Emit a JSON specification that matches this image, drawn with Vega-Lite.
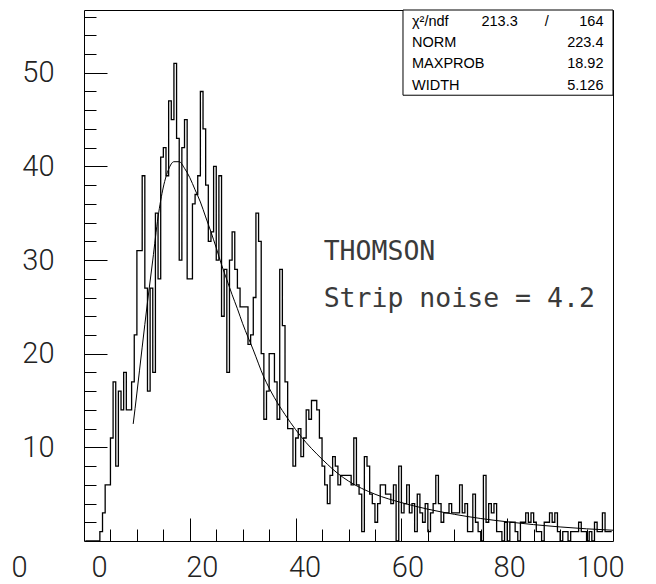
{
  "$schema": "https://vega.github.io/schema/vega-lite/v6.json",
  "width": 529,
  "height": 531,
  "autosize": {"type": "none"},
  "padding": {"left": 84, "top": 10, "right": 43, "bottom": 43},
  "background": "white",
  "config": {
    "view": {"stroke": "black", "strokeWidth": 1},
    "axis": {"domain": false, "grid": false, "tickColor": "black", "tickWidth": 1, "labelColor": "#222", "labelFont": "Roboto", "labelFontWeight": 300, "labelFontSize": 29}
  },
  "datasets": {
    "hist": [
      {"x":0.25,"n":0},{"x":0.75,"n":0},{"x":1.25,"n":0},{"x":1.75,"n":0},{"x":2.25,"n":0},{"x":2.75,"n":0},
      {"x":3.25,"n":1},{"x":3.75,"n":3},{"x":4.25,"n":6},{"x":4.75,"n":6},{"x":5.25,"n":11},{"x":5.75,"n":17},
      {"x":6.25,"n":8},{"x":6.75,"n":16},{"x":7.25,"n":14},{"x":7.75,"n":18},{"x":8.25,"n":14},{"x":8.75,"n":14},
      {"x":9.25,"n":17},{"x":9.75,"n":22},{"x":10.25,"n":31},{"x":10.75,"n":31},{"x":11.25,"n":39},{"x":11.75,"n":27},
      {"x":12.25,"n":16},{"x":12.75,"n":27},{"x":13.25,"n":18},{"x":13.75,"n":35},{"x":14.25,"n":28},{"x":14.75,"n":41},
      {"x":15.25,"n":42},{"x":15.75,"n":39},{"x":16.25,"n":47},{"x":16.75,"n":45},{"x":17.25,"n":51},{"x":17.75,"n":43},
      {"x":18.25,"n":30},{"x":18.75,"n":42},{"x":19.25,"n":45},{"x":19.75,"n":28},{"x":20.25,"n":28},{"x":20.75,"n":36},
      {"x":21.25,"n":37},{"x":21.75,"n":39},{"x":22.25,"n":48},{"x":22.75,"n":44},{"x":23.25,"n":38},{"x":23.75,"n":32},
      {"x":24.25,"n":33},{"x":24.75,"n":40},{"x":25.25,"n":30},{"x":25.75,"n":39},{"x":26.25,"n":24},{"x":26.75,"n":29},
      {"x":27.25,"n":18},{"x":27.75,"n":30},{"x":28.25,"n":33},{"x":28.75,"n":29},{"x":29.25,"n":27},{"x":29.75,"n":25},
      {"x":30.25,"n":25},{"x":30.75,"n":25},{"x":31.25,"n":21},{"x":31.75,"n":22},{"x":32.25,"n":26},{"x":32.75,"n":35},
      {"x":33.25,"n":32},{"x":33.75,"n":20},{"x":34.25,"n":13},{"x":34.75,"n":16},{"x":35.25,"n":20},{"x":35.75,"n":20},
      {"x":36.25,"n":17},{"x":36.75,"n":13},{"x":37.25,"n":29},{"x":37.75,"n":23},{"x":38.25,"n":17},{"x":38.75,"n":12},
      {"x":39.25,"n":12},{"x":39.75,"n":8},{"x":40.25,"n":11},{"x":40.75,"n":12},{"x":41.25,"n":9},{"x":41.75,"n":11},
      {"x":42.25,"n":14},{"x":42.75,"n":13},{"x":43.25,"n":15},{"x":43.75,"n":15},{"x":44.25,"n":14},{"x":44.75,"n":11},
      {"x":45.25,"n":8},{"x":45.75,"n":6},{"x":46.25,"n":4},{"x":46.75,"n":7},{"x":47.25,"n":9},{"x":47.75,"n":8},
      {"x":48.25,"n":6},{"x":48.75,"n":7},{"x":49.25,"n":7},{"x":49.75,"n":7},{"x":50.25,"n":7},{"x":50.75,"n":6},
      {"x":51.25,"n":11},{"x":51.75,"n":6},{"x":52.25,"n":5},{"x":52.75,"n":1},{"x":53.25,"n":9},{"x":53.75,"n":8},
      {"x":54.25,"n":5},{"x":54.75,"n":4},{"x":55.25,"n":2},{"x":55.75,"n":4},{"x":56.25,"n":6},{"x":56.75,"n":6},
      {"x":57.25,"n":5},{"x":57.75,"n":5},{"x":58.25,"n":4},{"x":58.75,"n":6},{"x":59.25,"n":0},{"x":59.75,"n":8},
      {"x":60.25,"n":3},{"x":60.75,"n":4},{"x":61.25,"n":6},{"x":61.75,"n":3},{"x":62.25,"n":4},{"x":62.75,"n":1},
      {"x":63.25,"n":5},{"x":63.75,"n":3},{"x":64.25,"n":2},{"x":64.75,"n":4},{"x":65.25,"n":1},{"x":65.75,"n":3},
      {"x":66.25,"n":4},{"x":66.75,"n":7},{"x":67.25,"n":4},{"x":67.75,"n":2},{"x":68.25,"n":3},{"x":68.75,"n":3},
      {"x":69.25,"n":4},{"x":69.75,"n":3},{"x":70.25,"n":3},{"x":70.75,"n":3},{"x":71.25,"n":6},{"x":71.75,"n":3},
      {"x":72.25,"n":4},{"x":72.75,"n":1},{"x":73.25,"n":1},{"x":73.75,"n":5},{"x":74.25,"n":2},{"x":74.75,"n":1},
      {"x":75.25,"n":0},{"x":75.75,"n":7},{"x":76.25,"n":2},{"x":76.75,"n":4},{"x":77.25,"n":3},{"x":77.75,"n":4},
      {"x":78.25,"n":1},{"x":78.75,"n":1},{"x":79.25,"n":0},{"x":79.75,"n":2},{"x":80.25,"n":0},{"x":80.75,"n":2},
      {"x":81.25,"n":2},{"x":81.75,"n":1},{"x":82.25,"n":0},{"x":82.75,"n":2},{"x":83.25,"n":2},{"x":83.75,"n":3},
      {"x":84.25,"n":2},{"x":84.75,"n":3},{"x":85.25,"n":2},{"x":85.75,"n":1},{"x":86.25,"n":1},{"x":86.75,"n":0},
      {"x":87.25,"n":2},{"x":87.75,"n":2},{"x":88.25,"n":3},{"x":88.75,"n":2},{"x":89.25,"n":3},{"x":89.75,"n":1},
      {"x":90.25,"n":0},{"x":90.75,"n":1},{"x":91.25,"n":1},{"x":91.75,"n":0},{"x":92.25,"n":1},{"x":92.75,"n":1},
      {"x":93.25,"n":1},{"x":93.75,"n":2},{"x":94.25,"n":1},{"x":94.75,"n":1},{"x":95.25,"n":0},{"x":95.75,"n":1},
      {"x":96.25,"n":0},{"x":96.75,"n":2},{"x":97.25,"n":1},{"x":97.75,"n":1},{"x":98.25,"n":3},{"x":98.75,"n":1},
      {"x":99.25,"n":1},{"x":99.75,"n":1}
    ],
    "fit": [
      {"x":9.3,"f":12.5},{"x":10,"f":15.8},{"x":11,"f":20.7},{"x":12,"f":25.5},{"x":13,"f":30},{"x":14,"f":34.6},
      {"x":15,"f":37.8},{"x":16,"f":39.7},{"x":17,"f":40.5},{"x":18,"f":40.5},{"x":19,"f":39.8},{"x":20,"f":38.8},
      {"x":21,"f":37.5},{"x":22,"f":36.2},{"x":23,"f":34.6},{"x":24,"f":33},{"x":25,"f":31.3},{"x":26,"f":29.5},
      {"x":27,"f":27.9},{"x":28,"f":26.3},{"x":29,"f":24.8},{"x":30,"f":23.2},{"x":32,"f":20.4},{"x":34,"f":17.5},
      {"x":36,"f":15.3},{"x":38,"f":13.5},{"x":40,"f":11.9},{"x":42,"f":10.5},{"x":44,"f":9.3},{"x":46,"f":8.2},
      {"x":48,"f":7.2},{"x":50,"f":6.4},{"x":55,"f":5.0},{"x":60,"f":4.1},{"x":65,"f":3.4},{"x":70,"f":2.85},
      {"x":75,"f":2.4},{"x":80,"f":2.05},{"x":85,"f":1.75},{"x":90,"f":1.5},{"x":95,"f":1.3},{"x":100,"f":1.15}
    ],
    "notes": [
      {"x":45.3,"y":30,"t":"THOMSON"},
      {"x":45.3,"y":25,"t":"Strip noise = 4.2"}
    ],
    "box": [{"x1":60.3,"x2":100,"y1":47.6,"y2":56.7}],
    "stats": [
      {"label":"χ²/ndf","value":"164","y":55.4},
      {"label":"NORM","value":"223.4","y":53.2},
      {"label":"MAXPROB","value":"18.92","y":50.9},
      {"label":"WIDTH","value":"5.126","y":48.6}
    ],
    "chimid": [
      {"s":"213.3","x":82.0,"y":55.4}
    ],
    "slash": [
      {"s":"/","x":87.5,"y":55.4}
    ]
  },
  "layer": [
    {
      "data": {"name": "hist"},
      "mark": {"type": "line", "interpolate": "step", "stroke": "black", "strokeWidth": 1.3},
      "encoding": {
        "x": {"field": "x", "type": "quantitative", "scale": {"domain": [0, 100], "nice": false, "zero": false},
              "axis": {"orient": "bottom", "title": null, "values": [0, 20, 40, 60, 80, 100], "ticks": false, "labelPadding": 12, "labelFlush": false,
                       "labelOffset": {"condition": [
                         {"test": "datum.value == 100", "value": -13},
                         {"test": "datum.value == 0", "value": 15},
                         {"test": "datum.value == 20", "value": 12},
                         {"test": "datum.value == 40", "value": 9},
                         {"test": "datum.value == 60", "value": 6}
                       ], "value": 2}}},
        "y": {"field": "n", "type": "quantitative", "scale": {"domain": [0, 56.7], "nice": false},
              "axis": {"orient": "left", "title": null, "values": [0, 10, 20, 30, 40, 50], "ticks": false, "labelFlush": false,
                       "labelPadding": {"condition": {"test": "datum.value == 0", "value": 57}, "value": 30},
                       "labelOffset": {"condition": {"test": "datum.value == 0", "value": 26}, "value": 0}}}
      }
    },
    {
      "data": {"name": "fit"},
      "mark": {"type": "line", "interpolate": "monotone", "stroke": "black", "strokeWidth": 1},
      "encoding": {
        "x": {"field": "x", "type": "quantitative",
              "axis": {"orient": "bottom", "title": null, "labels": false, "tickSize": -12, "values": [5, 10, 15, 25, 30, 35, 45, 50, 55, 65, 70, 75, 85, 90, 95]}},
        "y": {"field": "f", "type": "quantitative",
              "axis": {"orient": "left", "title": null, "labels": false, "tickSize": -12, "values": [2, 4, 6, 8, 12, 14, 16, 18, 22, 24, 26, 28, 32, 34, 36, 38, 42, 44, 46, 48, 52, 54, 56]}}
      }
    },
    {
      "data": {"name": "notes"},
      "mark": {"type": "text", "align": "left", "baseline": "alphabetic", "font": "DejaVu Sans Mono", "fontSize": 26.5, "color": "#3a3a3a"},
      "encoding": {
        "x": {"field": "x", "type": "quantitative",
              "axis": {"orient": "bottom", "title": null, "labels": false, "tickSize": -23, "values": [20, 40, 60, 80]}},
        "y": {"field": "y", "type": "quantitative",
              "axis": {"orient": "left", "title": null, "labels": false, "tickSize": -23, "values": [10, 20, 30, 40, 50]}},
        "text": {"field": "t"}
      }
    },
    {
      "data": {"name": "box"},
      "mark": {"type": "rect", "fill": "white", "stroke": "black", "strokeWidth": 1},
      "encoding": {
        "x": {"field": "x1", "type": "quantitative", "axis": null},
        "x2": {"field": "x2"},
        "y": {"field": "y1", "type": "quantitative", "axis": null},
        "y2": {"field": "y2"}
      }
    },
    {
      "data": {"name": "stats"},
      "mark": {"type": "text", "align": "left", "baseline": "middle", "font": "Liberation Sans", "fontSize": 14.5, "color": "black"},
      "encoding": {
        "x": {"datum": 62.0, "type": "quantitative", "axis": null},
        "y": {"field": "y", "type": "quantitative", "axis": null},
        "text": {"field": "label"}
      }
    },
    {
      "data": {"name": "stats"},
      "mark": {"type": "text", "align": "right", "baseline": "middle", "font": "Liberation Sans", "fontSize": 14.5, "color": "black"},
      "encoding": {
        "x": {"datum": 98.2, "type": "quantitative", "axis": null},
        "y": {"field": "y", "type": "quantitative", "axis": null},
        "text": {"field": "value"}
      }
    },
    {
      "data": {"name": "chimid"},
      "mark": {"type": "text", "align": "right", "baseline": "middle", "font": "Liberation Sans", "fontSize": 14.5, "color": "black"},
      "encoding": {
        "x": {"field": "x", "type": "quantitative", "axis": null},
        "y": {"field": "y", "type": "quantitative", "axis": null},
        "text": {"field": "s"}
      }
    },
    {
      "data": {"name": "slash"},
      "mark": {"type": "text", "align": "center", "baseline": "middle", "font": "Liberation Sans", "fontSize": 14.5, "color": "black"},
      "encoding": {
        "x": {"field": "x", "type": "quantitative", "axis": null},
        "y": {"field": "y", "type": "quantitative", "axis": null},
        "text": {"field": "s"}
      }
    }
  ],
  "resolve": {"axis": {"x": "independent", "y": "independent"}}
}
